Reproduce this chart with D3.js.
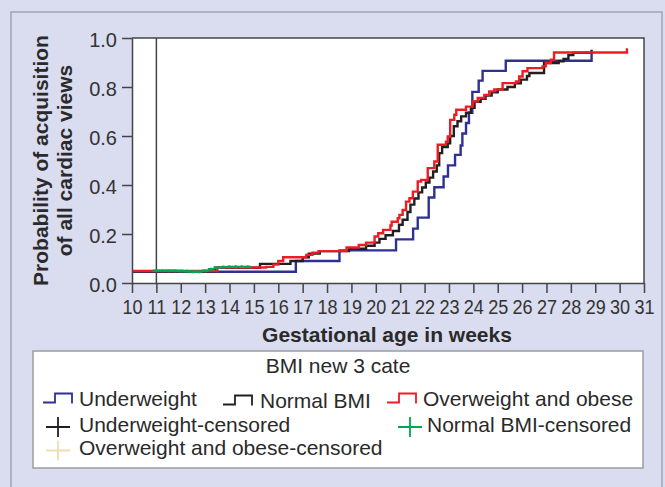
<!DOCTYPE html>
<meta charset="utf-8">
<style>
    body { margin: 0; background: #dadcf0; }
    svg { display: block; font-family: Arial, "Liberation Sans", sans-serif; }
    .panel { fill: #dadcf0; stroke: #a3a4b0; stroke-width: 1.5px; }
    .plot-bg { fill: #ffffff; }
    .frame { fill: none; stroke: #454545; stroke-width: 1.5px; }
    .axis path, .axis line { stroke: #454545; stroke-width: 1.5px; }
    .axis text { fill: #333; }
    .km { fill: none; stroke-width: 2.4px; stroke-linejoin: miter; }
    .legend-box { fill: #fff; stroke: #9d9d9d; stroke-width: 1.5px; }
    .legend text { fill: #2a2a2a; font-size: 21px; }
</style>
<body>
<div id="chart"></div>
<script src="https://cdnjs.cloudflare.com/ajax/libs/d3/7.8.5/d3.min.js"></script>
<script>
// tick labels
var xTicks = [10, 11, 12, 13, 14, 15, 16, 17, 18, 19, 20, 21, 22, 23, 24, 25, 26, 27, 28, 29, 30, 31];
var yTicks = [0, 0.2, 0.4, 0.6, 0.8, 1.0];

// Kaplan-Meier style steps: [week, probability after that week]
var underweight = [[10, 0.046], [16.72, 0.09], [18.51, 0.133], [20.83, 0.178], [21.53, 0.222], [21.72, 0.267],
    [22.17, 0.349], [22.4, 0.391], [22.78, 0.435], [22.96, 0.48], [23.25, 0.523], [23.48, 0.561], [23.55, 0.61],
    [23.7, 0.653], [23.82, 0.695], [23.96, 0.78], [24.22, 0.826], [24.38, 0.866], [25.33, 0.907], [28.85, 0.94]];

var normalBmi = [[10, 0.048], [13.4, 0.062], [15.25, 0.078], [16.5, 0.09], [17.0, 0.105], [17.25, 0.12],
    [17.7, 0.13], [18.9, 0.14], [19.6, 0.152], [19.95, 0.165], [20.15, 0.18], [20.4, 0.195], [20.7, 0.212],
    [20.95, 0.238], [21.1, 0.258], [21.3, 0.29], [21.42, 0.32], [21.58, 0.345], [21.75, 0.37], [21.9, 0.39],
    [22.05, 0.41], [22.2, 0.43], [22.35, 0.455], [22.5, 0.48], [22.6, 0.53], [22.72, 0.555], [22.95, 0.57],
    [23.05, 0.6], [23.2, 0.64], [23.35, 0.66], [23.5, 0.68], [23.7, 0.695], [23.9, 0.715], [24.05, 0.74],
    [24.3, 0.752], [24.5, 0.765], [24.75, 0.778], [25.0, 0.79], [25.4, 0.8], [25.7, 0.815], [25.95, 0.83],
    [26.2, 0.845], [26.3, 0.857], [26.9, 0.898], [27.5, 0.905], [27.7, 0.915], [27.9, 0.93], [28.1, 0.94],
    [28.85, 0.952]];

var overweight = [[10, 0.049], [13.5, 0.063], [15.5, 0.066], [15.8, 0.075], [16.0, 0.09], [16.2, 0.105],
    [17.15, 0.115], [17.4, 0.124], [17.65, 0.13], [18.8, 0.145], [19.3, 0.155], [19.6, 0.165], [19.95, 0.19],
    [20.1, 0.203], [20.3, 0.217], [20.6, 0.235], [20.65, 0.25], [20.9, 0.264], [20.97, 0.278], [21.1, 0.298],
    [21.24, 0.332], [21.38, 0.346], [21.52, 0.373], [21.72, 0.414], [21.86, 0.421], [22.13, 0.469],
    [22.4, 0.496], [22.54, 0.564], [22.88, 0.577], [22.95, 0.598], [23.05, 0.666], [23.22, 0.687],
    [23.3, 0.707], [23.7, 0.72], [23.97, 0.741], [24.18, 0.755], [24.45, 0.768], [24.65, 0.782],
    [24.86, 0.79], [25.2, 0.816], [25.75, 0.823], [25.88, 0.843], [26.02, 0.864], [26.22, 0.877],
    [26.84, 0.884], [26.97, 0.898], [27.18, 0.911], [27.31, 0.941], [30.3, 0.958]];

// censored marks of the Normal BMI group
var normalCensored = [[11.0, 0.05], [11.25, 0.05], [11.5, 0.05], [11.75, 0.05], [12.0, 0.049], [12.25, 0.048],
    [12.5, 0.046], [12.75, 0.046], [13.0, 0.05], [13.25, 0.056], [13.5, 0.062], [13.75, 0.065], [14.0, 0.066],
    [14.25, 0.066], [14.5, 0.066], [14.75, 0.066]];

var seriesNames = ["Underweight", "Normal BMI", "Overweight and obese"];
var censorNames = ["Underweight-censored", "Normal BMI-censored", "Overweight and obese-censored"];
var seriesColors = ["#2e3192", "#231f20", "#ed1c24"];
var censorColors = ["#231f20", "#00a651", "#f2dcb0"];

var width = 665, height = 487;

var svg = d3.select("#chart").append("svg")
    .attr("width", width)
    .attr("height", height);

svg.append("rect").attr("class", "panel")
    .attr("x", 11).attr("y", 12).attr("width", 651).attr("height", 500);

var x = d3.scaleLinear().domain([10, 31]).range([132, 644]);
var y = d3.scaleLinear().domain([0, 1]).range([283, 38]);

svg.append("rect").attr("class", "plot-bg")
    .attr("x", x(10)).attr("y", y(1))
    .attr("width", x(31) - x(10)).attr("height", y(0) - y(1));

// reference line at 11 weeks
svg.append("line")
    .attr("x1", x(11)).attr("x2", x(11))
    .attr("y1", y(0)).attr("y2", y(1))
    .attr("stroke", "#454545").attr("stroke-width", 1.5);

var line = d3.line()
    .x(function (d) { return x(d[0]); })
    .y(function (d) { return y(d[1]); })
    .curve(d3.curveStepAfter);

var curves = [underweight, normalBmi, overweight];
// draw blue first, then black, red on top
[0, 1, 2].forEach(function (i) {
    svg.append("path")
        .attr("class", "km")
        .attr("d", line(curves[i]))
        .attr("stroke", seriesColors[i]);
});

// censored marks
svg.append("g").selectAll("path")
    .data(normalCensored)
    .enter().append("path")
    .attr("d", function (d) {
        var cx = x(d[0]), cy = y(d[1]);
        return "M" + (cx - 3.5) + "," + cy + "H" + (cx + 3.5) + "M" + cx + "," + (cy - 1.5) + "V" + (cy + 1.5);
    })
    .attr("stroke", censorColors[1])
    .attr("stroke-width", 2.4)
    .attr("fill", "none");

// frame (top and right)
svg.append("path").attr("class", "frame")
    .attr("d", "M" + x(10) + "," + y(1) + "H" + x(31) + "V" + y(0));

// axes
var xAxis = svg.append("g").attr("class", "axis")
    .attr("transform", "translate(0," + y(0) + ")")
    .call(d3.axisBottom(x).tickValues(xTicks).tickFormat(d3.format("d")).tickSize(10).tickSizeOuter(0).tickPadding(6));
xAxis.selectAll("text").attr("font-size", 21).attr("dy", "0.71em")
    .attr("transform", "scale(0.86,1)");

var yAxis = svg.append("g").attr("class", "axis")
    .attr("transform", "translate(" + x(10) + ",0)")
    .call(d3.axisLeft(y).tickValues(yTicks).tickFormat(d3.format(".1f")).tickSize(10).tickSizeOuter(0).tickPadding(5));
yAxis.selectAll("text").attr("font-size", 20).attr("dy", "0.42em");

svg.append("text")
    .attr("x", (x(10) + x(31)) / 2 - 1)
    .attr("y", 342)
    .attr("text-anchor", "middle")
    .attr("font-size", 21)
    .attr("font-weight", "bold")
    .attr("fill", "#2a2a2a")
    .text("Gestational age in weeks");

var yTitle = svg.append("text")
    .attr("transform", "translate(48," + ((y(0) + y(1)) / 2) + ") rotate(-90)")
    .attr("text-anchor", "middle")
    .attr("font-size", 21)
    .attr("font-weight", "bold")
    .attr("fill", "#2a2a2a");
yTitle.append("tspan").attr("x", 0).attr("y", 0).text("Probability of acquisition");
yTitle.append("tspan").attr("x", 0).attr("y", 24).text("of all cardiac views");

// legend
var legend = svg.append("g").attr("class", "legend");
legend.append("rect").attr("class", "legend-box")
    .attr("x", 33).attr("y", 351).attr("width", 610).attr("height", 117);
legend.append("text")
    .attr("x", 338).attr("y", 373)
    .attr("text-anchor", "middle")
    .text("BMI new 3 cate");

var stepItems = [
    { sx: 43, tx: 79, ty: 405.5 },
    { sx: 223, tx: 260, ty: 407.5 },
    { sx: 387, tx: 423, ty: 405.5 }
];
stepItems.forEach(function (p, i) {
    var b = p.ty - 3, t = p.ty - 12;
    legend.append("path")
        .attr("d", "M" + p.sx + "," + b + "H" + (p.sx + 12) + "V" + t + "H" + (p.sx + 29) + "V" + (b + 1))
        .attr("fill", "none")
        .attr("stroke", seriesColors[i])
        .attr("stroke-width", 1.8);
    legend.append("text").attr("x", p.tx).attr("y", p.ty).text(seriesNames[i]);
});

var censorItems = [
    { cx: 58, tx: 79, ty: 431.5 },
    { cx: 410, tx: 427, ty: 431.5 },
    { cx: 58, tx: 79, ty: 455 }
];
censorItems.forEach(function (p, i) {
    var cy = p.ty - 4.5;
    legend.append("path")
        .attr("d", "M" + (p.cx - 12) + "," + cy + "H" + (p.cx + 12) + "M" + p.cx + "," + (cy - 10) + "V" + (cy + 10))
        .attr("fill", "none")
        .attr("stroke", censorColors[i])
        .attr("stroke-width", 1.8);
    legend.append("text").attr("x", p.tx).attr("y", p.ty).text(censorNames[i]);
});
</script>
</body>
